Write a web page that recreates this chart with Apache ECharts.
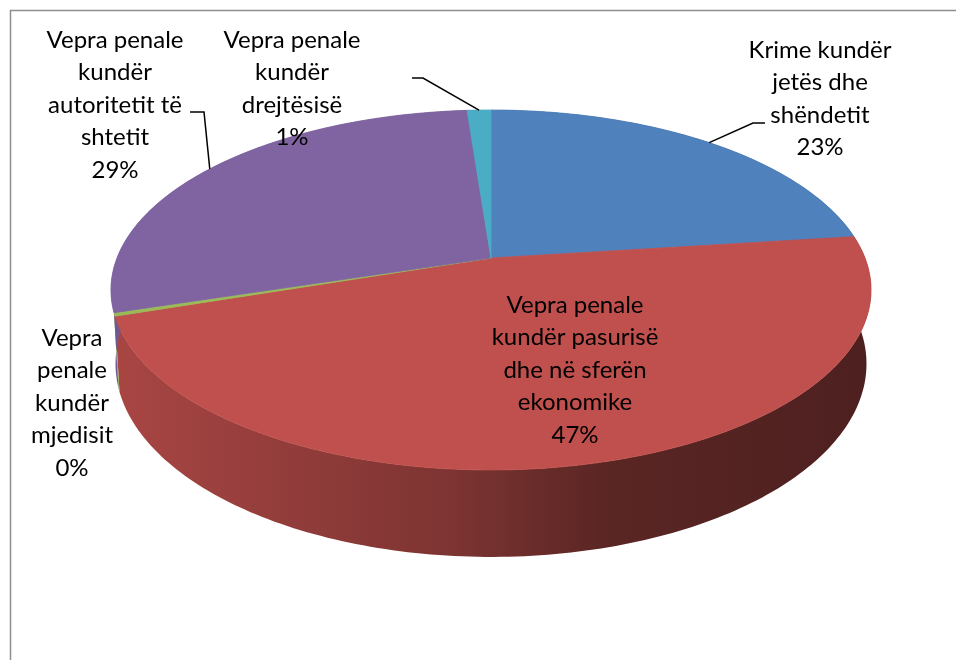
<!DOCTYPE html>
<html><head><meta charset="utf-8">
<script src="https://cdn.jsdelivr.net/npm/echarts@6/dist/echarts.min.js"></script>
<style>html,body{margin:0;padding:0;background:#fff}#c{width:956px;height:660px}</style>
</head><body><div id="c"></div>
<script>
// ---- data ----
const categories = [
  'Krime kundër\njetës dhe\nshëndetit',
  'Vepra penale\nkundër pasurisë\ndhe në sferën\nekonomike',
  'Vepra\npenale\nkundër\nmjedisit',
  'Vepra penale\nkundër\nautoritetit të\nshtetit',
  'Vepra penale\nkundër\ndrejtësisë'
];
const values = [23.0, 46.9, 0.3, 28.6, 1.2];
const colors = ['#4F81BD', '#C0504D', '#9BBB59', '#8064A2', '#4BACC6'];

// ---- layout (not data) ----
const G = {cx: 491, cy: 258, a: 374, b: 174.3, k: 0.1777, t: 71.5, sb: 0.988};
const labelLayout = [
  {x: 820, y: 50, leader: [[765, 123], [753, 123]]},
  {x: 575, y: 305},
  {x: 72, y: 338},
  {x: 115, y: 40, leader: [[190, 112], [204, 112]]},
  {x: 292, y: 40, leader: [[412, 78], [423, 78]]}
];
const FONT = '24px Lato';
const LH = 32.5;

const total = values.reduce((a, b) => a + b, 0);
const starts = [];
let acc = 0;
values.forEach(v => { starts.push(acc); acc += v; });

function ang(p) { return p / total * 2 * Math.PI; }
function proj(phi, bottom) {
  const x = Math.sin(phi), z = Math.cos(phi), w = 1 + G.k * z;
  return [G.cx + G.a * (bottom ? G.sb : 1) * x / w, G.cy - G.b * z / w + (bottom ? G.t / w : 0)];
}
function arc(p0, p1, bottom) {
  const pts = [];
  const n = Math.max(2, Math.ceil((p1 - p0) / total * 360));
  for (let j = 0; j <= n; j++) pts.push(proj(ang(p0 + (p1 - p0) * j / n), bottom));
  return pts;
}
function shade(hex, f) {
  const n = parseInt(hex.slice(1), 16);
  const r = Math.round(((n >> 16) & 255) * f), g = Math.round(((n >> 8) & 255) * f), b = Math.round((n & 255) * f);
  return 'rgb(' + r + ',' + g + ',' + b + ')';
}

const data = values.map((v, i) => [v, i]);

const chart = echarts.init(document.getElementById('c'), null, {renderer: 'canvas'});
chart.setOption({
  animation: false,
  graphic: [{
    type: 'rect', z: 0, silent: true,
    shape: {x: 10.5, y: 10.5, width: 980, height: 700},
    style: {fill: 'none', stroke: '#8e8e8e', lineWidth: 1.5}
  }],
  series: [
    {
      type: 'custom', coordinateSystem: 'none', z: 1, silent: true, data: data,
      renderItem: function (params, api) {
        const v = api.value(0), i = api.value(1), s = starts[i];
        const top = arc(s, s + v, false), bot = arc(s, s + v, true).reverse();
        const c = colors[i];
        return {
          type: 'polygon',
          shape: {points: top.concat(bot)},
          style: {
            fill: new echarts.graphic.LinearGradient(110, 0, 870, 0, [
              {offset: 0, color: shade(c, 0.88)},
              {offset: 0.45, color: shade(c, 0.65)},
              {offset: 0.65, color: shade(c, 0.47)},
              {offset: 1, color: shade(c, 0.40)}
            ], true),
            stroke: null
          }
        };
      }
    },
    {
      type: 'custom', coordinateSystem: 'none', z: 2, silent: true, data: data,
      renderItem: function (params, api) {
        const v = api.value(0), i = api.value(1), s = starts[i];
        const pts = [[G.cx, G.cy]].concat(arc(s, s + v, false));
        return {
          type: 'polygon',
          shape: {points: pts},
          style: {fill: colors[i], stroke: colors[i], lineWidth: 0.8}
        };
      }
    },
    {
      type: 'custom', coordinateSystem: 'none', z: 3, silent: true, data: data,
      renderItem: function (params, api) {
        const v = api.value(0), i = api.value(1), s = starts[i];
        const L = labelLayout[i];
        const pct = Math.round(v / total * 100) + '%';
        const children = [{
          type: 'text',
          style: {
            text: categories[i] + '\n' + pct,
            x: L.x, y: L.y - LH / 2,
            font: FONT, lineHeight: LH,
            fill: '#000', align: 'center', verticalAlign: 'top'
          }
        }];
        if (L.leader) {
          const rim = proj(ang(s + v / 2), false);
          children.push({
            type: 'polyline',
            shape: {points: L.leader.concat([rim])},
            style: {stroke: '#000', lineWidth: 1.5, fill: null}
          });
        }
        return {type: 'group', children: children};
      }
    }
  ]
});
</script>
</body></html>
